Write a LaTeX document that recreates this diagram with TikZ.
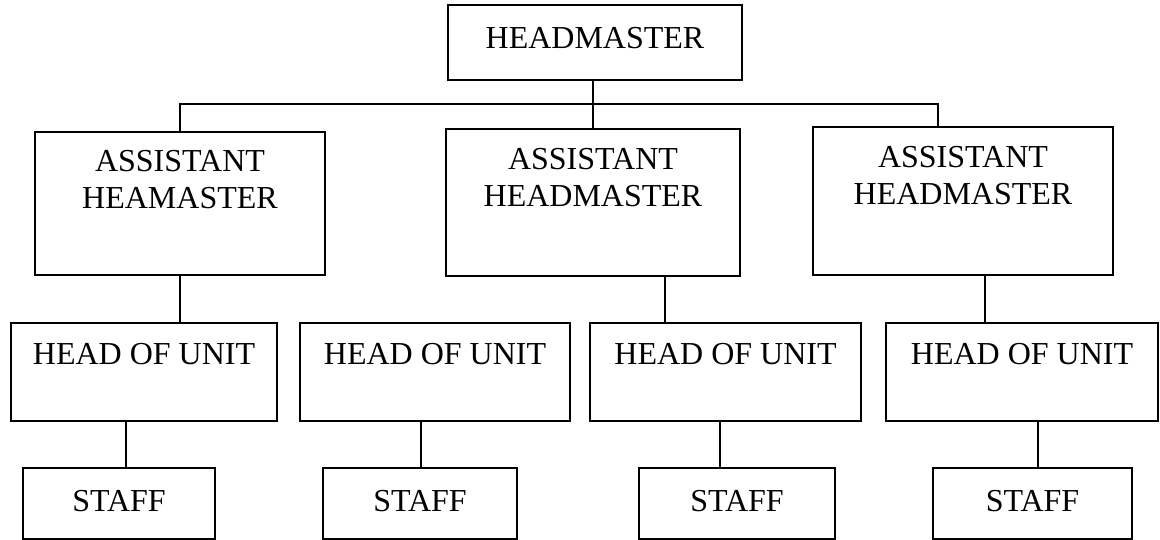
\documentclass[tikz,border=0pt]{standalone}
\usepackage{fontspec}
\setmainfont{Liberation Serif}
\begin{document}
\begin{tikzpicture}[x=1pt,y=-1pt,
  box/.style={draw, line width=1.8pt, inner sep=0pt, rectangle},
  lbl/.style={inner sep=0pt, anchor=north, align=center, font=\fontsize{32}{37}\selectfont},
  conn/.style={line width=1.8pt}]
\useasboundingbox (0,0) rectangle (1160,540);
% boxes
\node[box, minimum width=294pt, minimum height=75pt] (hm) at (595,42.5) {};
\node[box, minimum width=290pt, minimum height=143pt] (a1) at (180,203.5) {};
\node[box, minimum width=294pt, minimum height=147pt] (a2) at (593,202.5) {};
\node[box, minimum width=300pt, minimum height=148pt] (a3) at (963,201) {};
\node[box, minimum width=266pt, minimum height=98pt] (h1) at (144,372) {};
\node[box, minimum width=270pt, minimum height=98pt] (h2) at (435,372) {};
\node[box, minimum width=271pt, minimum height=98pt] (h3) at (725.5,372) {};
\node[box, minimum width=272pt, minimum height=98pt] (h4) at (1022,372) {};
\node[box, minimum width=192pt, minimum height=71pt] (s1) at (119,503.5) {};
\node[box, minimum width=194pt, minimum height=71pt] (s2) at (420,503.5) {};
\node[box, minimum width=196pt, minimum height=71pt] (s3) at (737,503.5) {};
\node[box, minimum width=199pt, minimum height=71pt] (s4) at (1032.5,503.5) {};
% labels
\node[lbl] (thm) at (595,27) {HEADMASTER};
\node[lbl] (ta1) at (180,150) {ASSISTANT\\HEAMASTER};
\node[lbl] (ta2) at (593,148) {ASSISTANT\\HEADMASTER};
\node[lbl] (ta3) at (963,146) {ASSISTANT\\HEADMASTER};
\node[lbl] (th1) at (144,343) {HEAD OF UNIT};
\node[lbl] (th2) at (435,343) {HEAD OF UNIT};
\node[lbl] (th3) at (725.5,343) {HEAD OF UNIT};
\node[lbl] (th4) at (1022,343) {HEAD OF UNIT};
\node[lbl] (ts1) at (119,490) {STAFF};
\node[lbl] (ts2) at (420,490) {STAFF};
\node[lbl] (ts3) at (737,490) {STAFF};
\node[lbl] (ts4) at (1032.5,490) {STAFF};
% connectors
\coordinate (barL) at (180,104);
\coordinate (barM) at (593,104);
\coordinate (barR) at (938,104);
\draw[conn] (barM |- hm.south) -- (barM);
\draw[conn] (a1.north) -- (barL) -- (barR) -- (barR |- a3.north);
\draw[conn] (barM) -- (barM |- a2.north);
\draw[conn] (a1.south) -- (a1.south |- h1.north);
\draw[conn] (665,0 |- a2.south) -- (665,0 |- h3.north);
\draw[conn] (985,0 |- a3.south) -- (985,0 |- h4.north);
\draw[conn] (126,0 |- h1.south) -- (126,0 |- s1.north);
\draw[conn] (421,0 |- h2.south) -- (421,0 |- s2.north);
\draw[conn] (720,0 |- h3.south) -- (720,0 |- s3.north);
\draw[conn] (1038,0 |- h4.south) -- (1038,0 |- s4.north);
\end{tikzpicture}
\end{document}
